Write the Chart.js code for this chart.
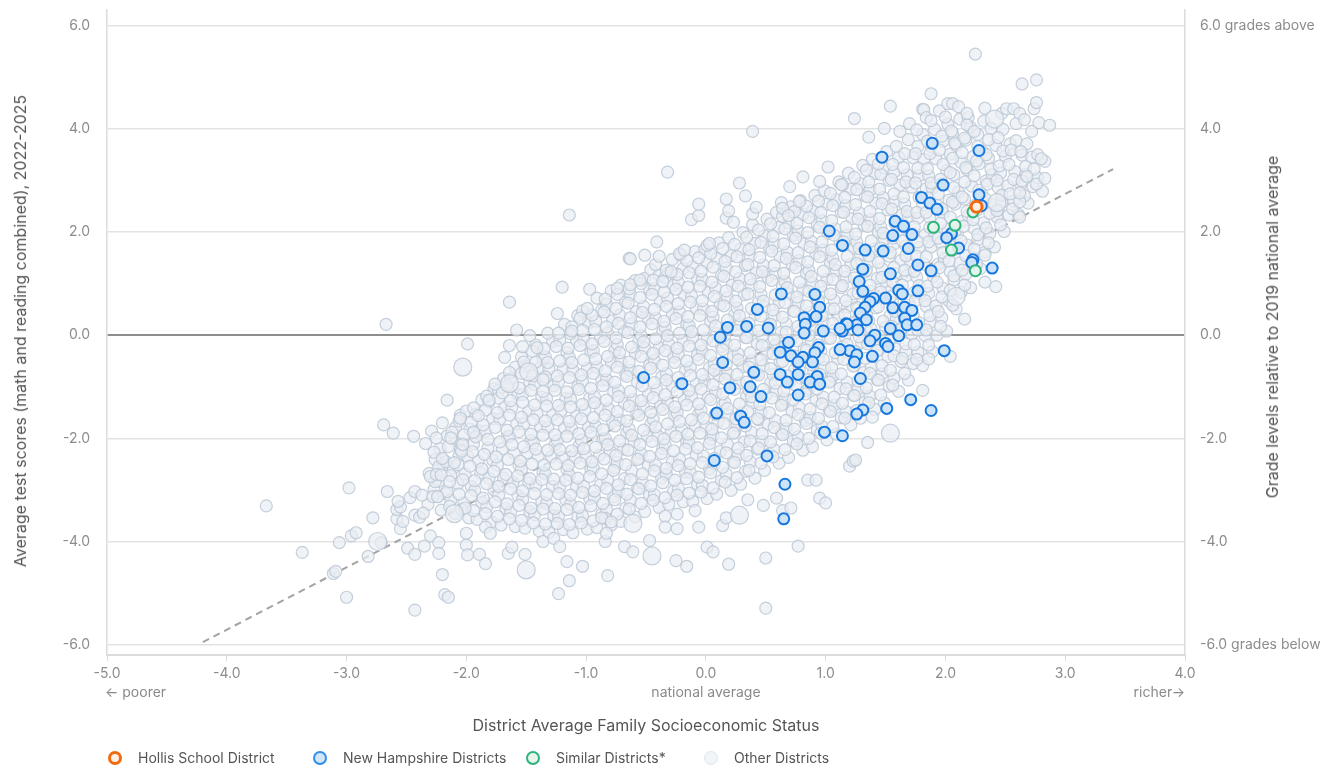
<!DOCTYPE html>
<html>
<head>
<meta charset="utf-8">
<title>Hollis School District - test scores vs socioeconomic status</title>
<script src="https://cdn.jsdelivr.net/npm/chart.js@4.4.1/dist/chart.umd.min.js"></script>
<style>
  body { margin: 0; background: #fff; font-family: Inter, "Noto Sans", sans-serif; }
  #wrap { position: relative; width: 1343px; height: 769px; overflow: hidden; }
  #chart { position: absolute; left: 0; top: 0; }
  .axis-title { position: absolute; color: #555; font-size: 16px; white-space: nowrap; }
  .rot { transform: translate(-50%, -50%) rotate(-90deg); }
  .sub { position: absolute; color: #8a8a8a; font-size: 14px; white-space: nowrap; }
  .legend-item { position: absolute; top: 749px; display: flex; align-items: center; color: #555; font-size: 14px; white-space: nowrap; }
  .dot { width: 14px; height: 14px; border-radius: 50%; box-sizing: border-box; margin-right: 16px; }
</style>
</head>
<body>
<div id="wrap">
  <canvas id="chart" width="1343" height="769"></canvas>

  <div class="axis-title rot" style="left:20px; top:331px;">Average test scores (math and reading combined), 2022-2025</div>
  <div class="axis-title rot" style="left:1272px; top:327px;">Grade levels relative to 2019 national average</div>
  <div class="axis-title" style="left:646px; top:725px; transform:translate(-50%,-50%);">District Average Family Socioeconomic Status</div>

  <div class="sub" style="left:105px; top:683px;">← poorer</div>
  <div class="sub" style="left:706px; top:683px; transform:translateX(-50%);">national average</div>
  <div class="sub" style="left:1185px; top:683px; transform:translateX(-100%);">richer→</div>

  <div class="legend-item" style="left:108px;"><span class="dot" style="border:3px solid #f26a0e; background:#fff0e6;"></span>Hollis School District</div>
  <div class="legend-item" style="left:313px;"><span class="dot" style="border:2px solid #2f8fea; background:#d3e6f8;"></span>New Hampshire Districts</div>
  <div class="legend-item" style="left:526px;"><span class="dot" style="border:2px solid #2db47b; background:#e6f6ee;"></span>Similar Districts*</div>
  <div class="legend-item" style="left:704px;"><span class="dot" style="border:1.5px solid #dfe5ec; background:#f2f5f8;"></span>Other Districts</div>
</div>

<script>
// axis ticks
const xTicks = [-5, -4, -3, -2, -1, 0, 1, 2, 3, 4];
const yTicks = [-6, -4, -2, 0, 2, 4, 6];

// [SES, test score]
const hollis = [[2.26, 2.49]];

const similarDistricts = [
  [2.23, 2.39], [1.90, 2.09], [2.08, 2.13], [2.05, 1.65], [2.25, 1.25]
];

const newHampshire = [
  [1.89, 3.72], [2.28, 3.58], [1.47, 3.45], [1.98, 2.91], [2.28, 2.72], [1.80, 2.67], [1.87, 2.56], [1.93, 2.44], [2.30, 2.51],
  [1.58, 2.21], [1.65, 2.11], [1.56, 1.93], [1.72, 1.95], [2.05, 1.97], [2.01, 1.89], [2.11, 1.69], [1.48, 1.63], [1.33, 1.65],
  [1.69, 1.68], [1.14, 1.74], [1.03, 2.02], [2.23, 1.46], [2.22, 1.41], [2.39, 1.30], [1.77, 1.36], [1.88, 1.25], [1.31, 1.28],
  [1.54, 1.19], [1.28, 1.04], [1.31, 0.85], [1.61, 0.87], [1.64, 0.80], [1.77, 0.86], [1.50, 0.72], [1.40, 0.71], [1.37, 0.65],
  [1.33, 0.54], [1.29, 0.43], [1.56, 0.53], [1.66, 0.54], [1.72, 0.48], [1.34, 0.30], [1.66, 0.33], [1.68, 0.20], [1.76, 0.20],
  [1.17, 0.22], [1.26, 0.20], [1.14, 0.08], [1.54, 0.13], [1.61, -0.01], [1.41, 0.00], [1.37, -0.11], [1.50, -0.16], [1.52, -0.22],
  [1.99, -0.30], [1.20, -0.30], [1.26, -0.38], [1.39, -0.41], [1.24, -0.52], [1.29, -0.84], [1.71, -1.25], [1.51, -1.42],
  [1.88, -1.46], [1.31, -1.45], [1.26, -1.53], [1.14, -1.95], [0.63, 0.80], [0.91, 0.79], [0.95, 0.54], [0.43, 0.50],
  [0.92, 0.36], [0.82, 0.34], [0.83, 0.21], [1.18, 0.21], [1.27, 0.10], [0.18, 0.15], [0.34, 0.17], [0.52, 0.14], [0.12, -0.04],
  [0.82, 0.04], [0.98, 0.08], [1.12, 0.13], [0.69, -0.14], [0.94, -0.24], [0.91, -0.34], [0.62, -0.33], [0.71, -0.40],
  [0.81, -0.43], [1.12, -0.28], [0.14, -0.53], [0.77, -0.52], [0.89, -0.52], [-0.52, -0.82], [-0.20, -0.94], [0.40, -0.72],
  [0.62, -0.76], [0.77, -0.76], [0.93, -0.80], [0.87, -0.91], [0.95, -0.95], [0.68, -0.91], [0.20, -1.02], [0.37, -1.00],
  [0.46, -1.19], [0.77, -1.16], [0.09, -1.51], [0.29, -1.57], [0.32, -1.69], [0.99, -1.88], [0.07, -2.43], [0.51, -2.34],
  [0.66, -2.89], [0.65, -3.56]
];

// bigger districts among the others
const otherLarge = [
  [-2.74, -4.00], [-2.03, -0.62], [-1.48, -0.71], [-1.64, -0.94], [-1.50, -4.55], [-0.45, -4.28], [-2.10, -3.46],
  [0.28, -3.49], [-0.61, -3.65], [1.54, -1.90], [2.09, 0.75], [2.41, 4.19], [2.43, 2.57]
];

// dense middle of the cloud
const otherCore = [
  [-2.32,-3.28],[-2.27,-2.99],[-2.31,-2.68],[-2.26,-2.41],[-2.34,-2.10],[-2.29,-1.86],
  [-2.21,-3.39],[-2.17,-3.07],[-2.23,-2.83],[-2.19,-2.51],[-2.22,-2.20],[-2.16,-1.95],[-2.2,-1.70],
  [-2.09,-3.46],[-2.13,-3.20],[-2.07,-2.88],[-2.11,-2.58],[-2.06,-2.33],[-2.12,-2.01],[-2.09,-1.79],[-2.05,-1.55],
  [-1.98,-3.54],[-2.02,-3.25],[-1.96,-2.93],[-2.01,-2.69],[-1.99,-2.35],[-2.04,-2.10],[-1.97,-1.82],[-2.0,-1.47],
  [-1.91,-3.57],[-1.87,-3.24],[-1.93,-3.01],[-1.88,-2.67],[-1.9,-2.44],[-1.94,-2.11],[-1.89,-1.86],[-1.92,-1.53],[-1.87,-1.25],
  [-1.79,-3.62],[-1.83,-3.33],[-1.77,-3.00],[-1.81,-2.77],[-1.78,-2.42],[-1.82,-2.19],[-1.84,-1.86],[-1.78,-1.62],[-1.81,-1.29],[-1.77,-1.04],
  [-1.71,-3.68],[-1.67,-3.36],[-1.73,-3.10],[-1.69,-2.77],[-1.74,-2.52],[-1.7,-2.20],[-1.66,-1.97],[-1.72,-1.63],[-1.68,-1.39],[-1.73,-1.07],[-1.69,-0.84],
  [-1.59,-3.71],[-1.63,-3.43],[-1.57,-3.11],[-1.61,-2.85],[-1.56,-2.53],[-1.6,-2.29],[-1.64,-1.96],[-1.58,-1.72],[-1.62,-1.40],[-1.57,-1.15],[-1.63,-0.84],[-1.59,-0.62],
  [-1.51,-3.74],[-1.47,-3.42],[-1.53,-3.18],[-1.48,-2.86],[-1.54,-2.60],[-1.49,-2.28],[-1.46,-2.04],[-1.52,-1.72],[-1.48,-1.47],[-1.53,-1.15],[-1.47,-0.91],[-1.51,-0.60],[-1.54,-0.42],
  [-1.39,-3.80],[-1.43,-3.48],[-1.37,-3.23],[-1.42,-2.91],[-1.36,-2.66],[-1.4,-2.34],[-1.44,-2.09],[-1.38,-1.77],[-1.41,-1.52],[-1.37,-1.20],[-1.43,-0.96],[-1.39,-0.64],[-1.36,-0.45],[-1.42,-0.19],
  [-1.31,-3.82],[-1.27,-3.50],[-1.33,-3.26],[-1.28,-2.93],[-1.34,-2.69],[-1.29,-2.36],[-1.26,-2.12],[-1.32,-1.79],[-1.28,-1.55],[-1.33,-1.23],[-1.27,-0.98],[-1.31,-0.66],[-1.34,-0.42],[-1.28,-0.12],[-1.32,0.04],
  [-1.19,-3.77],[-1.23,-3.51],[-1.17,-3.19],[-1.22,-2.94],[-1.16,-2.61],[-1.2,-2.37],[-1.24,-2.04],[-1.18,-1.80],[-1.21,-1.47],[-1.17,-1.23],[-1.23,-0.90],[-1.19,-0.66],[-1.16,-0.34],[-1.22,-0.10],[-1.18,0.21],
  [-1.11,-3.83],[-1.07,-3.52],[-1.13,-3.28],[-1.08,-2.95],[-1.14,-2.71],[-1.09,-2.38],[-1.06,-2.14],[-1.12,-1.81],[-1.08,-1.57],[-1.13,-1.24],[-1.07,-1.00],[-1.11,-0.68],[-1.14,-0.43],[-1.08,-0.11],[-1.12,0.16],[-1.07,0.38],
  [-0.99,-3.76],[-1.03,-3.50],[-0.97,-3.17],[-1.02,-2.93],[-0.96,-2.60],[-1.0,-2.36],[-1.04,-2.03],[-0.98,-1.79],[-1.01,-1.46],[-0.97,-1.22],[-1.03,-0.89],[-0.99,-0.65],[-0.96,-0.33],[-1.02,-0.08],[-0.98,0.24],[-1.03,0.47],
  [-0.91,-3.73],[-0.87,-3.47],[-0.93,-3.15],[-0.88,-2.90],[-0.94,-2.58],[-0.89,-2.33],[-0.86,-2.01],[-0.92,-1.76],[-0.88,-1.44],[-0.93,-1.19],[-0.87,-0.87],[-0.91,-0.62],[-0.94,-0.30],[-0.88,-0.05],[-0.92,0.27],[-0.87,0.49],[-0.91,0.72],
  [-0.79,-3.68],[-0.83,-3.38],[-0.77,-3.13],[-0.82,-2.81],[-0.76,-2.57],[-0.8,-2.24],[-0.84,-2.00],[-0.78,-1.67],[-0.81,-1.43],[-0.77,-1.10],[-0.83,-0.86],[-0.79,-0.53],[-0.76,-0.29],[-0.82,0.04],[-0.78,0.28],[-0.83,0.60],[-0.79,0.86],
  [-0.71,-3.61],[-0.67,-3.35],[-0.73,-3.03],[-0.68,-2.78],[-0.74,-2.46],[-0.69,-2.21],[-0.66,-1.89],[-0.72,-1.64],[-0.68,-1.32],[-0.73,-1.07],[-0.67,-0.75],[-0.71,-0.50],[-0.74,-0.18],[-0.68,0.07],[-0.72,0.39],[-0.67,0.64],[-0.71,0.97],
  [-0.59,-3.52],[-0.63,-3.20],[-0.57,-2.96],[-0.62,-2.63],[-0.56,-2.39],[-0.6,-2.06],[-0.64,-1.82],[-0.58,-1.49],[-0.61,-1.25],[-0.57,-0.92],[-0.63,-0.68],[-0.59,-0.35],[-0.56,-0.11],[-0.62,0.22],[-0.58,0.46],[-0.63,0.79],[-0.59,1.06],
  [-0.51,-3.42],[-0.47,-3.10],[-0.53,-2.86],[-0.48,-2.53],[-0.54,-2.29],[-0.49,-1.96],[-0.46,-1.72],[-0.52,-1.39],[-0.48,-1.15],[-0.53,-0.82],[-0.47,-0.58],[-0.51,-0.25],[-0.54,-0.01],[-0.48,0.32],[-0.52,0.56],[-0.47,0.89],[-0.51,1.10],[-0.46,1.27],
  [-0.39,-3.34],[-0.43,-3.09],[-0.37,-2.77],[-0.42,-2.52],[-0.36,-2.20],[-0.4,-1.95],[-0.44,-1.63],[-0.38,-1.38],[-0.41,-1.06],[-0.37,-0.81],[-0.43,-0.49],[-0.39,-0.24],[-0.36,0.08],[-0.42,0.33],[-0.38,0.65],[-0.43,0.90],[-0.39,1.16],[-0.42,1.37],
  [-0.31,-3.28],[-0.27,-3.02],[-0.33,-2.70],[-0.28,-2.45],[-0.34,-2.13],[-0.29,-1.88],[-0.26,-1.56],[-0.32,-1.31],[-0.28,-0.99],[-0.33,-0.74],[-0.27,-0.42],[-0.31,-0.17],[-0.34,0.15],[-0.28,0.40],[-0.32,0.72],[-0.27,0.97],[-0.31,1.22],[-0.28,1.47],
  [-0.19,-3.23],[-0.23,-2.97],[-0.17,-2.65],[-0.22,-2.40],[-0.16,-2.08],[-0.2,-1.83],[-0.24,-1.51],[-0.18,-1.26],[-0.21,-0.94],[-0.17,-0.69],[-0.23,-0.37],[-0.19,-0.12],[-0.16,0.20],[-0.22,0.45],[-0.18,0.77],[-0.23,1.02],[-0.19,1.29],[-0.21,1.55],
  [-0.11,-3.22],[-0.07,-2.90],[-0.13,-2.66],[-0.08,-2.33],[-0.14,-2.09],[-0.09,-1.76],[-0.06,-1.52],[-0.12,-1.19],[-0.08,-0.95],[-0.13,-0.62],[-0.07,-0.38],[-0.11,-0.05],[-0.14,0.19],[-0.08,0.52],[-0.12,0.76],[-0.07,1.09],[-0.11,1.33],[-0.09,1.62],
  [0.01,-3.17],[-0.03,-2.91],[0.03,-2.59],[-0.02,-2.34],[0.04,-2.02],[0.0,-1.77],[-0.04,-1.45],[0.02,-1.20],[-0.01,-0.88],[0.03,-0.63],[-0.03,-0.31],[0.01,-0.06],[0.04,0.26],[-0.02,0.51],[0.02,0.83],[-0.03,1.08],[0.01,1.40],[-0.01,1.66],
  [0.09,-3.08],[0.13,-2.82],[0.07,-2.50],[0.12,-2.25],[0.06,-1.93],[0.1,-1.68],[0.14,-1.36],[0.08,-1.11],[0.11,-0.79],[0.07,-0.54],[0.13,-0.22],[0.09,0.03],[0.06,0.35],[0.12,0.60],[0.08,0.92],[0.13,1.17],[0.09,1.49],[0.11,1.79],
  [0.21,-3.01],[0.17,-2.69],[0.23,-2.45],[0.18,-2.12],[0.24,-1.88],[0.19,-1.55],[0.16,-1.31],[0.22,-0.98],[0.18,-0.74],[0.23,-0.41],[0.17,-0.17],[0.21,0.16],[0.24,0.40],[0.18,0.73],[0.22,0.97],[0.17,1.30],[0.21,1.54],[0.19,1.89],
  [0.29,-2.89],[0.33,-2.64],[0.27,-2.32],[0.32,-2.07],[0.26,-1.75],[0.3,-1.50],[0.34,-1.18],[0.28,-0.93],[0.31,-0.61],[0.27,-0.36],[0.33,-0.04],[0.29,0.21],[0.26,0.53],[0.32,0.78],[0.28,1.10],[0.33,1.35],[0.29,1.67],[0.31,1.99],
  [0.41,-2.77],[0.37,-2.45],[0.43,-2.21],[0.38,-1.88],[0.44,-1.64],[0.39,-1.31],[0.36,-1.07],[0.42,-0.74],[0.38,-0.50],[0.43,-0.17],[0.37,0.07],[0.41,0.40],[0.44,0.64],[0.38,0.97],[0.42,1.21],[0.37,1.54],[0.41,1.78],[0.39,2.14],
  [0.49,-2.62],[0.53,-2.30],[0.47,-2.06],[0.52,-1.73],[0.46,-1.49],[0.5,-1.16],[0.54,-0.92],[0.48,-0.59],[0.51,-0.35],[0.47,-0.02],[0.53,0.22],[0.49,0.55],[0.46,0.79],[0.52,1.12],[0.48,1.36],[0.53,1.69],[0.49,1.93],[0.51,2.25],
  [0.61,-2.48],[0.57,-2.22],[0.63,-1.90],[0.58,-1.65],[0.64,-1.33],[0.59,-1.08],[0.56,-0.76],[0.62,-0.51],[0.58,-0.19],[0.63,0.06],[0.57,0.38],[0.61,0.63],[0.64,0.95],[0.58,1.20],[0.62,1.52],[0.57,1.77],[0.61,2.09],[0.59,2.38],
  [0.69,-2.37],[0.73,-2.05],[0.67,-1.81],[0.72,-1.48],[0.66,-1.24],[0.7,-0.91],[0.74,-0.67],[0.68,-0.34],[0.71,-0.10],[0.67,0.23],[0.73,0.47],[0.69,0.80],[0.66,1.04],[0.72,1.37],[0.68,1.61],[0.73,1.94],[0.69,2.18],[0.71,2.49],
  [0.81,-2.23],[0.77,-1.97],[0.83,-1.65],[0.78,-1.40],[0.84,-1.08],[0.79,-0.83],[0.76,-0.51],[0.82,-0.26],[0.78,0.06],[0.83,0.31],[0.77,0.63],[0.81,0.88],[0.84,1.20],[0.78,1.45],[0.82,1.77],[0.77,2.02],[0.81,2.34],[0.79,2.61],
  [0.89,-2.16],[0.93,-1.84],[0.87,-1.60],[0.92,-1.27],[0.86,-1.03],[0.9,-0.70],[0.94,-0.46],[0.88,-0.13],[0.91,0.11],[0.87,0.44],[0.93,0.68],[0.89,1.01],[0.86,1.25],[0.92,1.58],[0.88,1.82],[0.93,2.15],[0.89,2.41],[0.91,2.71],
  [1.01,-2.03],[0.97,-1.77],[1.03,-1.45],[0.98,-1.20],[1.04,-0.88],[0.99,-0.63],[0.96,-0.31],[1.02,-0.06],[0.98,0.26],[1.03,0.51],[0.97,0.83],[1.01,1.08],[1.04,1.40],[0.98,1.65],[1.02,1.97],[0.97,2.22],[1.01,2.54],[0.99,2.80],
  [1.09,-1.92],[1.13,-1.60],[1.07,-1.36],[1.12,-1.03],[1.06,-0.79],[1.1,-0.46],[1.14,-0.22],[1.08,0.11],[1.11,0.35],[1.07,0.68],[1.13,0.92],[1.09,1.25],[1.06,1.49],[1.12,1.82],[1.08,2.06],[1.13,2.39],[1.09,2.63],[1.11,2.97],
  [1.21,-1.74],[1.17,-1.48],[1.23,-1.16],[1.18,-0.91],[1.24,-0.59],[1.19,-0.34],[1.16,-0.02],[1.22,0.23],[1.18,0.55],[1.23,0.80],[1.17,1.12],[1.21,1.37],[1.24,1.69],[1.18,1.94],[1.22,2.26],[1.17,2.51],[1.21,2.83],[1.19,3.14],
  [1.29,-1.61],[1.33,-1.29],[1.27,-1.05],[1.32,-0.72],[1.26,-0.48],[1.3,-0.15],[1.34,0.09],[1.28,0.42],[1.31,0.66],[1.27,0.99],[1.33,1.23],[1.29,1.56],[1.26,1.80],[1.32,2.13],[1.28,2.37],[1.33,2.70],[1.29,2.94],[1.31,3.29],
  [1.41,-1.44],[1.37,-1.18],[1.43,-0.86],[1.38,-0.61],[1.44,-0.29],[1.39,-0.04],[1.36,0.28],[1.42,0.53],[1.38,0.85],[1.43,1.10],[1.37,1.42],[1.41,1.67],[1.44,1.99],[1.38,2.24],[1.42,2.56],[1.37,2.81],[1.41,3.13],[1.39,3.41],
  [1.49,-1.31],[1.53,-0.99],[1.47,-0.75],[1.52,-0.42],[1.46,-0.18],[1.5,0.15],[1.54,0.39],[1.48,0.72],[1.51,0.96],[1.47,1.29],[1.53,1.53],[1.49,1.86],[1.46,2.10],[1.52,2.43],[1.48,2.67],[1.53,3.00],[1.49,3.24],[1.51,3.56],
  [1.61,-1.09],[1.57,-0.83],[1.63,-0.51],[1.58,-0.26],[1.64,0.06],[1.59,0.31],[1.56,0.63],[1.62,0.88],[1.58,1.20],[1.63,1.45],[1.57,1.77],[1.61,2.02],[1.64,2.34],[1.58,2.59],[1.62,2.91],[1.57,3.16],[1.61,3.45],[1.59,3.66],
  [1.69,-0.87],[1.73,-0.55],[1.67,-0.31],[1.72,0.02],[1.66,0.26],[1.7,0.59],[1.74,0.83],[1.68,1.16],[1.71,1.40],[1.67,1.73],[1.73,1.97],[1.69,2.30],[1.66,2.54],[1.72,2.87],[1.68,3.11],[1.73,3.44],[1.69,3.79],
  [1.81,-0.59],[1.77,-0.33],[1.83,-0.01],[1.78,0.24],[1.84,0.56],[1.79,0.81],[1.76,1.13],[1.82,1.38],[1.78,1.70],[1.83,1.95],[1.77,2.27],[1.81,2.52],[1.84,2.84],[1.78,3.09],[1.82,3.41],[1.77,3.66],[1.81,3.89],
  [1.89,-0.32],[1.93,0.00],[1.87,0.24],[1.92,0.57],[1.86,0.81],[1.9,1.14],[1.94,1.38],[1.88,1.71],[1.91,1.95],[1.87,2.28],[1.93,2.52],[1.89,2.85],[1.86,3.09],[1.92,3.42],[1.88,3.66],[1.91,3.99],
  [2.01,0.08],[1.97,0.34],[2.03,0.66],[1.98,0.91],[2.04,1.23],[1.99,1.48],[1.96,1.80],[2.02,2.05],[1.98,2.37],[2.03,2.62],[1.97,2.94],[2.01,3.19],[2.04,3.51],[1.98,3.76],[2.02,4.09],
  [2.09,0.51],[2.13,0.83],[2.07,1.07],[2.12,1.40],[2.06,1.64],[2.1,1.97],[2.14,2.21],[2.08,2.54],[2.11,2.78],[2.07,3.11],[2.13,3.35],[2.09,3.68],[2.06,3.92],[2.12,4.19],
  [2.21,0.92],[2.17,1.18],[2.23,1.50],[2.18,1.75],[2.24,2.07],[2.19,2.32],[2.16,2.64],[2.22,2.89],[2.18,3.21],[2.23,3.46],[2.17,3.78],[2.21,4.03],[2.19,4.22],
  [2.29,1.29],[2.33,1.61],[2.27,1.85],[2.32,2.18],[2.26,2.42],[2.3,2.75],[2.34,2.99],[2.28,3.32],[2.31,3.56],[2.27,3.89],[2.32,4.15],
  [2.41,1.71],[2.37,1.97],[2.43,2.29],[2.38,2.54],[2.44,2.86],[2.39,3.11],[2.36,3.43],[2.42,3.68],[2.38,4.01],
  [2.49,2.01],[2.53,2.33],[2.47,2.57],[2.52,2.90],[2.46,3.14],[2.5,3.47],[2.54,3.71],[2.48,3.99],
  [2.61,2.34],[2.57,2.60],[2.63,2.92],[2.58,3.17],[2.64,3.49],[2.59,3.77],
  [2.69,2.56],[2.73,2.88],[2.67,3.12],[2.72,3.45],[2.68,3.71],
  [2.81,2.79],[2.77,3.05],[2.83,3.37]
];

// more districts packed in between the ones above
const otherCoreInner = [
  [-2.24,-3.13],[-2.26,-2.84],[-2.23,-2.55],[-2.27,-2.27],[-2.25,-1.99],
  [-2.14,-3.32],[-2.16,-3.03],[-2.13,-2.72],[-2.17,-2.45],[-2.15,-2.16],[-2.12,-1.88],
  [-2.04,-3.38],[-2.06,-3.08],[-2.03,-2.80],[-2.07,-2.51],[-2.05,-2.22],[-2.02,-1.93],[-2.06,-1.66],
  [-1.94,-3.40],[-1.96,-3.11],[-1.93,-2.82],[-1.97,-2.54],[-1.95,-2.26],[-1.92,-1.97],[-1.96,-1.69],[-1.94,-1.41],
  [-1.84,-3.46],[-1.86,-3.16],[-1.83,-2.88],[-1.87,-2.59],[-1.85,-2.31],[-1.82,-2.02],[-1.86,-1.74],[-1.84,-1.45],[-1.83,-1.18],
  [-1.74,-3.51],[-1.76,-3.23],[-1.73,-2.93],[-1.77,-2.64],[-1.75,-2.36],[-1.72,-2.07],[-1.76,-1.79],[-1.74,-1.50],[-1.73,-1.22],[-1.76,-0.95],
  [-1.64,-3.56],[-1.66,-3.27],[-1.63,-2.98],[-1.67,-2.70],[-1.65,-2.41],[-1.62,-2.12],[-1.66,-1.84],[-1.64,-1.55],[-1.63,-1.27],[-1.66,-0.98],[-1.64,-0.72],
  [-1.54,-3.59],[-1.56,-3.30],[-1.53,-3.02],[-1.57,-2.73],[-1.55,-2.44],[-1.52,-2.16],[-1.56,-1.87],[-1.54,-1.59],[-1.53,-1.30],[-1.56,-1.02],[-1.54,-0.74],[-1.52,-0.52],
  [-1.44,-3.64],[-1.46,-3.35],[-1.43,-3.07],[-1.47,-2.78],[-1.45,-2.50],[-1.42,-2.21],[-1.46,-1.92],[-1.44,-1.64],[-1.43,-1.35],[-1.46,-1.07],[-1.44,-0.79],[-1.42,-0.52],[-1.45,-0.31],
  [-1.34,-3.66],[-1.36,-3.37],[-1.33,-3.09],[-1.37,-2.80],[-1.35,-2.52],[-1.32,-2.23],[-1.36,-1.94],[-1.34,-1.66],[-1.33,-1.37],[-1.36,-1.09],[-1.34,-0.81],[-1.32,-0.53],[-1.35,-0.26],
  [-1.24,-3.65],[-1.26,-3.36],[-1.23,-3.07],[-1.27,-2.79],[-1.25,-2.50],[-1.22,-2.22],[-1.26,-1.93],[-1.24,-1.64],[-1.23,-1.36],[-1.26,-1.07],[-1.24,-0.79],[-1.22,-0.50],[-1.25,-0.22],[-1.23,0.04],
  [-1.14,-3.67],[-1.16,-3.38],[-1.13,-3.10],[-1.17,-2.81],[-1.15,-2.53],[-1.12,-2.24],[-1.16,-1.96],[-1.14,-1.67],[-1.13,-1.39],[-1.16,-1.10],[-1.14,-0.82],[-1.12,-0.53],[-1.15,-0.25],[-1.13,0.03],
  [-1.04,-3.64],[-1.06,-3.34],[-1.03,-3.05],[-1.07,-2.77],[-1.05,-2.48],[-1.02,-2.20],[-1.06,-1.91],[-1.04,-1.62],[-1.03,-1.34],[-1.06,-1.05],[-1.04,-0.77],[-1.02,-0.48],[-1.05,-0.20],[-1.03,0.09],[-1.05,0.33],
  [-0.94,-3.60],[-0.96,-3.31],[-0.93,-3.02],[-0.97,-2.74],[-0.95,-2.45],[-0.92,-2.17],[-0.96,-1.88],[-0.94,-1.60],[-0.93,-1.31],[-0.96,-1.03],[-0.94,-0.74],[-0.92,-0.46],[-0.95,-0.17],[-0.93,0.11],[-0.95,0.39],
  [-0.84,-3.55],[-0.86,-3.26],[-0.83,-2.97],[-0.87,-2.69],[-0.85,-2.40],[-0.82,-2.12],[-0.86,-1.83],[-0.84,-1.55],[-0.83,-1.26],[-0.86,-0.98],[-0.84,-0.69],[-0.82,-0.41],[-0.85,-0.12],[-0.83,0.16],[-0.85,0.45],[-0.84,0.70],
  [-0.74,-3.47],[-0.76,-3.19],[-0.73,-2.90],[-0.77,-2.62],[-0.75,-2.33],[-0.72,-2.05],[-0.76,-1.76],[-0.74,-1.48],[-0.73,-1.19],[-0.76,-0.91],[-0.74,-0.62],[-0.72,-0.34],[-0.75,-0.05],[-0.73,0.23],[-0.75,0.52],[-0.74,0.79],
  [-0.64,-3.37],[-0.66,-3.08],[-0.63,-2.80],[-0.67,-2.51],[-0.65,-2.23],[-0.62,-1.94],[-0.66,-1.66],[-0.64,-1.37],[-0.63,-1.09],[-0.66,-0.80],[-0.64,-0.52],[-0.62,-0.23],[-0.65,0.05],[-0.63,0.34],[-0.65,0.62],[-0.64,0.90],
  [-0.54,-3.26],[-0.56,-2.98],[-0.53,-2.69],[-0.57,-2.41],[-0.55,-2.12],[-0.52,-1.84],[-0.56,-1.55],[-0.54,-1.27],[-0.53,-0.98],[-0.56,-0.70],[-0.54,-0.41],[-0.52,-0.13],[-0.55,0.16],[-0.53,0.44],[-0.55,0.73],[-0.54,1.00],
  [-0.44,-3.20],[-0.46,-2.92],[-0.43,-2.63],[-0.47,-2.35],[-0.45,-2.06],[-0.42,-1.78],[-0.46,-1.49],[-0.44,-1.21],[-0.43,-0.92],[-0.46,-0.64],[-0.44,-0.35],[-0.42,-0.07],[-0.45,0.22],[-0.43,0.50],[-0.45,0.79],[-0.44,1.07],
  [-0.34,-3.15],[-0.36,-2.86],[-0.33,-2.58],[-0.37,-2.29],[-0.35,-2.01],[-0.32,-1.72],[-0.36,-1.44],[-0.34,-1.15],[-0.33,-0.87],[-0.36,-0.58],[-0.34,-0.30],[-0.32,-0.01],[-0.35,0.27],[-0.33,0.56],[-0.35,0.84],[-0.34,1.12],
  [-0.24,-3.10],[-0.26,-2.81],[-0.23,-2.53],[-0.27,-2.24],[-0.25,-1.96],[-0.22,-1.67],[-0.26,-1.39],[-0.24,-1.10],[-0.23,-0.82],[-0.26,-0.53],[-0.24,-0.25],[-0.22,0.04],[-0.25,0.32],[-0.23,0.61],[-0.25,0.89],[-0.24,1.18],
  [-0.14,-3.06],[-0.16,-2.78],[-0.13,-2.49],[-0.17,-2.21],[-0.15,-1.92],[-0.12,-1.64],[-0.16,-1.35],[-0.14,-1.07],[-0.13,-0.78],[-0.16,-0.50],[-0.14,-0.21],[-0.12,0.07],[-0.15,0.36],[-0.13,0.64],[-0.15,0.93],[-0.14,1.21],[-0.16,1.45],
  [-0.04,-3.04],[-0.06,-2.75],[-0.03,-2.47],[-0.07,-2.18],[-0.05,-1.90],[-0.02,-1.61],[-0.06,-1.33],[-0.04,-1.04],[-0.03,-0.76],[-0.06,-0.47],[-0.04,-0.19],[-0.02,0.10],[-0.05,0.38],[-0.03,0.67],[-0.05,0.95],[-0.04,1.24],[-0.06,1.50],
  [0.06,-2.96],[0.04,-2.67],[0.07,-2.39],[0.03,-2.10],[0.05,-1.82],[0.08,-1.53],[0.04,-1.25],[0.06,-0.96],[0.07,-0.68],[0.04,-0.39],[0.06,-0.11],[0.08,0.18],[0.05,0.46],[0.07,0.75],[0.05,1.03],[0.06,1.32],[0.04,1.58],
  [0.16,-2.85],[0.14,-2.56],[0.17,-2.28],[0.13,-1.99],[0.15,-1.71],[0.18,-1.42],[0.14,-1.14],[0.16,-0.85],[0.17,-0.57],[0.14,-0.28],[0.16,0.00],[0.18,0.29],[0.15,0.57],[0.17,0.86],[0.15,1.14],[0.16,1.43],[0.14,1.68],
  [0.26,-2.76],[0.24,-2.47],[0.27,-2.19],[0.23,-1.90],[0.25,-1.62],[0.28,-1.33],[0.24,-1.05],[0.26,-0.76],[0.27,-0.48],[0.24,-0.19],[0.26,0.09],[0.28,0.38],[0.25,0.66],[0.27,0.95],[0.25,1.23],[0.26,1.52],[0.24,1.76],
  [0.36,-2.62],[0.34,-2.33],[0.37,-2.05],[0.33,-1.76],[0.35,-1.48],[0.38,-1.19],[0.34,-0.91],[0.36,-0.62],[0.37,-0.34],[0.34,-0.05],[0.36,0.23],[0.38,0.52],[0.35,0.80],[0.37,1.09],[0.35,1.37],[0.36,1.66],[0.34,1.90],
  [0.46,-2.48],[0.44,-2.19],[0.47,-1.91],[0.43,-1.62],[0.45,-1.34],[0.48,-1.05],[0.44,-0.77],[0.46,-0.48],[0.47,-0.20],[0.44,0.09],[0.46,0.37],[0.48,0.66],[0.45,0.94],[0.47,1.23],[0.45,1.51],[0.46,1.80],[0.44,2.04],
  [0.56,-2.36],[0.54,-2.07],[0.57,-1.79],[0.53,-1.50],[0.55,-1.22],[0.58,-0.93],[0.54,-0.65],[0.56,-0.36],[0.57,-0.08],[0.54,0.21],[0.56,0.49],[0.58,0.78],[0.55,1.06],[0.57,1.35],[0.55,1.63],[0.56,1.92],[0.54,2.16],
  [0.66,-2.22],[0.64,-1.93],[0.67,-1.65],[0.63,-1.36],[0.65,-1.08],[0.68,-0.79],[0.64,-0.51],[0.66,-0.22],[0.67,0.06],[0.64,0.35],[0.66,0.63],[0.68,0.92],[0.65,1.20],[0.67,1.49],[0.65,1.77],[0.66,2.06],[0.64,2.30],
  [0.76,-2.11],[0.74,-1.82],[0.77,-1.54],[0.73,-1.25],[0.75,-0.97],[0.78,-0.68],[0.74,-0.40],[0.76,-0.11],[0.77,0.17],[0.74,0.46],[0.76,0.74],[0.78,1.03],[0.75,1.31],[0.77,1.60],[0.75,1.88],[0.76,2.17],[0.74,2.40],
  [0.86,-2.00],[0.84,-1.71],[0.87,-1.43],[0.83,-1.14],[0.85,-0.86],[0.88,-0.57],[0.84,-0.29],[0.86,0.00],[0.87,0.28],[0.84,0.57],[0.86,0.85],[0.88,1.14],[0.85,1.42],[0.87,1.71],[0.85,1.99],[0.86,2.28],[0.84,2.50],
  [0.96,-1.90],[0.94,-1.61],[0.97,-1.33],[0.93,-1.04],[0.95,-0.76],[0.98,-0.47],[0.94,-0.19],[0.96,0.10],[0.97,0.38],[0.94,0.67],[0.96,0.95],[0.98,1.24],[0.95,1.52],[0.97,1.81],[0.95,2.09],[0.96,2.38],[0.94,2.60],
  [1.06,-1.77],[1.04,-1.48],[1.07,-1.20],[1.03,-0.91],[1.05,-0.63],[1.08,-0.34],[1.04,-0.06],[1.06,0.23],[1.07,0.51],[1.04,0.80],[1.06,1.08],[1.08,1.37],[1.05,1.65],[1.07,1.94],[1.05,2.22],[1.06,2.51],[1.04,2.75],
  [1.16,-1.61],[1.14,-1.32],[1.17,-1.04],[1.13,-0.75],[1.15,-0.47],[1.18,-0.18],[1.14,0.10],[1.16,0.39],[1.17,0.67],[1.14,0.96],[1.16,1.24],[1.18,1.53],[1.15,1.81],[1.17,2.10],[1.15,2.38],[1.16,2.67],[1.14,2.91],
  [1.26,-1.46],[1.24,-1.17],[1.27,-0.89],[1.23,-0.60],[1.25,-0.32],[1.28,-0.03],[1.24,0.25],[1.26,0.54],[1.27,0.82],[1.24,1.11],[1.26,1.39],[1.28,1.68],[1.25,1.96],[1.27,2.25],[1.25,2.53],[1.26,2.82],[1.24,3.06],
  [1.36,-1.31],[1.34,-1.02],[1.37,-0.74],[1.33,-0.45],[1.35,-0.17],[1.38,0.12],[1.34,0.40],[1.36,0.69],[1.37,0.97],[1.34,1.26],[1.36,1.54],[1.38,1.83],[1.35,2.11],[1.37,2.40],[1.35,2.68],[1.36,2.97],[1.34,3.20],
  [1.46,-1.16],[1.44,-0.87],[1.47,-0.59],[1.43,-0.30],[1.45,-0.02],[1.48,0.27],[1.44,0.55],[1.46,0.84],[1.47,1.12],[1.44,1.41],[1.46,1.69],[1.48,1.98],[1.45,2.26],[1.47,2.55],[1.45,2.83],[1.46,3.12],[1.44,3.32],
  [1.56,-0.97],[1.54,-0.68],[1.57,-0.40],[1.53,-0.11],[1.55,0.17],[1.58,0.46],[1.54,0.74],[1.56,1.03],[1.57,1.31],[1.54,1.60],[1.56,1.88],[1.58,2.17],[1.55,2.45],[1.57,2.74],[1.55,3.02],[1.56,3.31],
  [1.66,-0.74],[1.64,-0.45],[1.67,-0.17],[1.63,0.12],[1.65,0.40],[1.68,0.69],[1.64,0.97],[1.66,1.26],[1.67,1.54],[1.64,1.83],[1.66,2.11],[1.68,2.40],[1.65,2.68],[1.67,2.97],[1.65,3.25],[1.66,3.52],
  [1.76,-0.47],[1.74,-0.18],[1.77,0.10],[1.73,0.39],[1.75,0.67],[1.78,0.96],[1.74,1.24],[1.76,1.53],[1.77,1.81],[1.74,2.10],[1.76,2.38],[1.78,2.67],[1.75,2.95],[1.77,3.24],[1.75,3.52],
  [1.86,-0.19],[1.84,0.10],[1.87,0.38],[1.83,0.67],[1.85,0.95],[1.88,1.24],[1.84,1.52],[1.86,1.81],[1.87,2.09],[1.84,2.38],[1.86,2.66],[1.88,2.95],[1.85,3.23],[1.87,3.52],[1.85,3.76],
  [1.96,0.17],[1.94,0.46],[1.97,0.74],[1.93,1.03],[1.95,1.31],[1.98,1.60],[1.94,1.88],[1.96,2.17],[1.97,2.45],[1.94,2.74],[1.96,3.02],[1.98,3.31],[1.95,3.59],[1.97,3.86],
  [2.06,0.58],[2.04,0.87],[2.07,1.15],[2.03,1.44],[2.05,1.72],[2.08,2.01],[2.04,2.29],[2.06,2.58],[2.07,2.86],[2.04,3.15],[2.06,3.43],[2.08,3.72],[2.05,3.96],
  [2.16,0.97],[2.14,1.26],[2.17,1.54],[2.13,1.83],[2.15,2.11],[2.18,2.40],[2.14,2.68],[2.16,2.97],[2.17,3.25],[2.14,3.54],[2.16,3.82],[2.18,4.08],
  [2.26,1.38],[2.24,1.67],[2.27,1.95],[2.23,2.24],[2.25,2.52],[2.28,2.81],[2.24,3.09],[2.26,3.38],[2.27,3.66],[2.24,3.95],
  [2.36,1.79],[2.34,2.08],[2.37,2.36],[2.33,2.65],[2.35,2.93],[2.38,3.22],[2.34,3.50],[2.36,3.79],
  [2.46,2.14],[2.44,2.43],[2.47,2.71],[2.43,3.00],[2.45,3.28],[2.48,3.57],[2.44,3.83],
  [2.56,2.45],[2.54,2.74],[2.57,3.02],[2.53,3.31],[2.55,3.59],
  [2.66,2.70],[2.64,2.99],[2.67,3.27],[2.63,3.56],
  [2.76,2.93],[2.74,3.22],[2.77,3.50]
];

// sparse edge of the cloud and outliers
const otherFringe = [
  [-3.67,-3.31],[-3.37,-4.21],[-3.06,-4.02],[-3.11,-4.62],[-3.09,-4.58],[-3.00,-5.08],[-2.98,-2.96],[-2.96,-3.89],[-2.92,-3.83],
  [-2.82,-4.29],[-2.78,-3.54],[-2.71,-4.02],[-2.69,-1.74],[-2.67,0.21],[-2.66,-3.03],[-2.61,-1.90],[-2.58,-3.56],[-2.55,-3.75],
  [-2.53,-3.61],[-2.58,-3.38],[-2.55,-3.33],[-2.57,-3.22],[-2.49,-4.13],[-2.47,-3.15],[-2.44,-1.96],[-2.43,-4.25],[-2.43,-3.49],
  [-2.43,-3.03],[-2.43,-5.33],[-2.39,-3.53],[-2.37,-3.10],[-2.36,-3.45],[-2.35,-4.09],[-2.30,-3.89],[-2.30,-2.74],[-2.28,-3.13],
  [-2.25,-2.70],[-2.24,-3.13],[-2.23,-4.02],[-2.23,-4.23],[-2.21,-2.71],[-2.20,-2.39],[-2.20,-4.64],[-2.18,-5.03],[-2.15,-5.08],
  [-2.16,-1.26],[-2.13,-1.99],[-2.10,-2.47],[-2.14,-2.84],[-2.04,-2.25],[-2.05,-1.61],[-2.03,-2.12],[-2.01,-3.35],[-2.00,-3.84],
  [-2.00,-4.07],[-1.99,-4.26],[-1.99,-0.17],[-1.94,-1.88],[-1.90,-1.56],[-1.89,-4.25],[-1.84,-4.43],[-1.84,-3.72],[-1.81,-1.26],
  [-1.80,-3.84],[-1.70,-1.12],[-1.68,-0.43],[-1.65,-4.23],[-1.64,0.64],[-1.64,-0.20],[-1.62,-4.11],[-1.58,0.10],[-1.53,-0.22],
  [-1.51,-4.25],[-1.47,-0.01],[-1.41,-0.24],[-1.36,-0.86],[-1.36,-4.00],[-1.27,-3.94],[-1.24,0.42],[-1.23,-5.01],[-1.22,-4.10],
  [-1.20,0.93],[-1.16,-4.39],[-1.14,-4.76],[-1.14,2.33],[-1.12,0.08],[-1.03,-4.48],[-0.99,0.52],[-0.97,0.89],[-0.87,-3.54],
  [-0.84,-4.00],[-0.83,-3.84],[-0.82,-4.66],[-0.79,-3.62],[-0.74,0.91],[-0.68,-4.10],[-0.64,1.49],[-0.63,0.98],[-0.63,1.48],
  [-0.61,-4.20],[-0.55,1.07],[-0.51,1.55],[-0.47,-3.98],[-0.41,1.81],[-0.39,1.53],[-0.36,1.04],[-0.34,-3.51],[-0.34,-3.72],
  [-0.33,1.26],[-0.32,3.16],[-0.29,1.23],[-0.25,-4.37],[-0.24,-3.47],[-0.24,-3.75],[-0.22,1.58],[-0.18,1.65],[-0.16,-4.48],
  [-0.12,2.24],[-0.09,-3.40],[-0.06,2.32],[-0.06,2.54],[-0.06,-3.72],[0.01,-4.11],[0.01,1.74],[0.03,1.78],[0.06,-4.20],
  [0.14,-3.69],[0.17,-3.54],[0.17,2.64],[0.17,2.27],[0.19,2.41],[0.19,-4.44],[0.23,2.19],[0.28,2.95],[0.33,2.70],[0.35,-3.19],
  [0.39,3.95],[0.39,2.35],[0.42,2.48],[0.48,-3.30],[0.50,-4.32],[0.50,-5.29],[0.59,-3.16],[0.63,2.57],[0.64,2.46],[0.64,-3.40],
  [0.69,2.32],[0.70,2.88],[0.71,-3.35],[0.77,-4.09],[0.78,2.59],[0.81,3.07],[0.85,-2.81],[0.92,-2.81],[0.95,2.98],[0.95,-3.16],
  [1.00,-3.25],[1.02,3.26],[1.13,2.92],[1.20,-2.54],[1.23,-2.44],[1.25,-2.42],[1.24,4.20],[1.35,-2.08],[1.36,3.84],[1.39,-1.59],
  [1.49,4.01],[1.54,4.44],[1.62,3.95],[1.70,4.10],[1.76,3.98],[1.81,4.38],[1.81,-1.07],[1.82,4.37],[1.84,4.22],[1.86,-0.46],
  [1.88,4.16],[1.88,4.68],[1.95,4.35],[2.00,4.23],[2.02,4.49],[2.06,4.49],[2.11,4.43],[2.04,-0.41],[2.16,0.31],[2.18,4.30],
  [2.25,5.45],[2.33,1.55],[2.33,1.03],[2.33,4.40],[2.42,0.94],[2.43,2.41],[2.47,4.30],[2.51,4.39],[2.57,4.39],[2.59,4.10],
  [2.62,4.30],[2.62,2.29],[2.62,2.59],[2.62,2.76],[2.64,4.87],[2.66,4.18],[2.68,3.08],[2.72,3.95],[2.74,4.39],[2.76,4.95],
  [2.76,4.51],[2.78,4.12],[2.80,3.42],[2.83,3.04],[2.87,4.07]
];

// dashed fit line end points
const trendLine = [[-4.2, -5.95], [3.4, 3.22]];

const toXY = arr => arr.map(([x, y]) => ({ x, y }));

Chart.defaults.font.family = 'Inter, "Noto Sans", sans-serif';

const tickFont = { size: 14 };
const tickColor = "#8c8c8c";
const edge = "#dcdcdc";
const greyFill = "rgba(233,237,242,0.72)";
const greyEdge = "rgba(184,197,211,0.8)";

new Chart(document.getElementById("chart"), {
  type: "scatter",
  data: {
    datasets: [
      {
        label: "Hollis School District",
        data: toXY(hollis),
        order: 0,
        pointRadius: 5.5,
        borderWidth: 3,
        borderColor: "#f26a0e",
        backgroundColor: "#fff0e6",
      },
      {
        label: "Similar Districts*",
        data: toXY(similarDistricts),
        order: 1,
        pointRadius: 5.5,
        borderWidth: 2,
        borderColor: "#2db47b",
        backgroundColor: "rgba(226,245,236,0.9)",
      },
      {
        label: "New Hampshire Districts",
        data: toXY(newHampshire),
        order: 2,
        pointRadius: 5.5,
        borderWidth: 2,
        borderColor: "#1677de",
        backgroundColor: "#cfe3f7",
      },
      {
        label: "Other Districts (large)",
        data: toXY(otherLarge),
        order: 3,
        pointRadius: 9,
        borderWidth: 1.2,
        borderColor: greyEdge,
        backgroundColor: greyFill,
      },
      {
        label: "Other Districts",
        data: toXY(otherCore.concat(otherCoreInner, otherFringe)),
        order: 4,
        pointRadius: 6,
        borderWidth: 1.2,
        borderColor: greyEdge,
        backgroundColor: greyFill,
      },
      {
        // fit line sits underneath the districts
        label: "trend",
        type: "line",
        data: toXY(trendLine),
        order: 5,
        pointRadius: 0,
        borderColor: "#a3a3a3",
        borderWidth: 2,
        borderDash: [7, 5],
        fill: false,
      },
    ],
  },
  options: {
    responsive: false,
    animation: false,
    events: [],
    layout: { padding: { top: 3, bottom: 35, left: 0, right: 0 } },
    plugins: { legend: { display: false }, tooltip: { enabled: false } },
    scales: {
      x: {
        type: "linear",
        min: -5,
        max: 4,
        afterBuildTicks: s => { s.ticks = xTicks.map(v => ({ value: v })); },
        afterFit: s => { s.height = 79; s.paddingLeft = 0; s.paddingRight = 0; },
        ticks: { font: tickFont, color: tickColor, padding: 4, maxRotation: 0, callback: v => v.toFixed(1) },
        grid: { drawOnChartArea: false, drawTicks: true, tickLength: 6, color: edge },
        border: { color: edge, width: 2 },
      },
      y: {
        type: "linear",
        position: "left",
        min: -6.2,
        max: 6.3,
        afterBuildTicks: s => { s.ticks = yTicks.map(v => ({ value: v })); },
        afterFit: s => { s.width = 107; s.paddingTop = 0; s.paddingBottom = 0; },
        ticks: { font: tickFont, color: tickColor, padding: 17, callback: v => v.toFixed(1) },
        grid: {
          drawTicks: false,
          color: c => (c.tick && c.tick.value === 0 ? "#8e8e8e" : "#e3e3e3"),
          lineWidth: c => (c.tick && c.tick.value === 0 ? 2 : 1.5),
        },
        border: { color: edge, width: 1.5 },
      },
      y2: {
        type: "linear",
        position: "right",
        min: -6.2,
        max: 6.3,
        afterBuildTicks: s => { s.ticks = yTicks.map(v => ({ value: v })); },
        afterFit: s => { s.width = 158; s.paddingTop = 0; s.paddingBottom = 0; },
        ticks: {
          font: tickFont,
          color: tickColor,
          padding: 15,
          callback: v => v.toFixed(1) + (v === 6 ? " grades above" : v === -6 ? " grades below" : ""),
        },
        grid: { drawOnChartArea: false, drawTicks: false },
        border: { color: edge, width: 1.5 },
      },
    },
  },
});
</script>
</body>
</html>
